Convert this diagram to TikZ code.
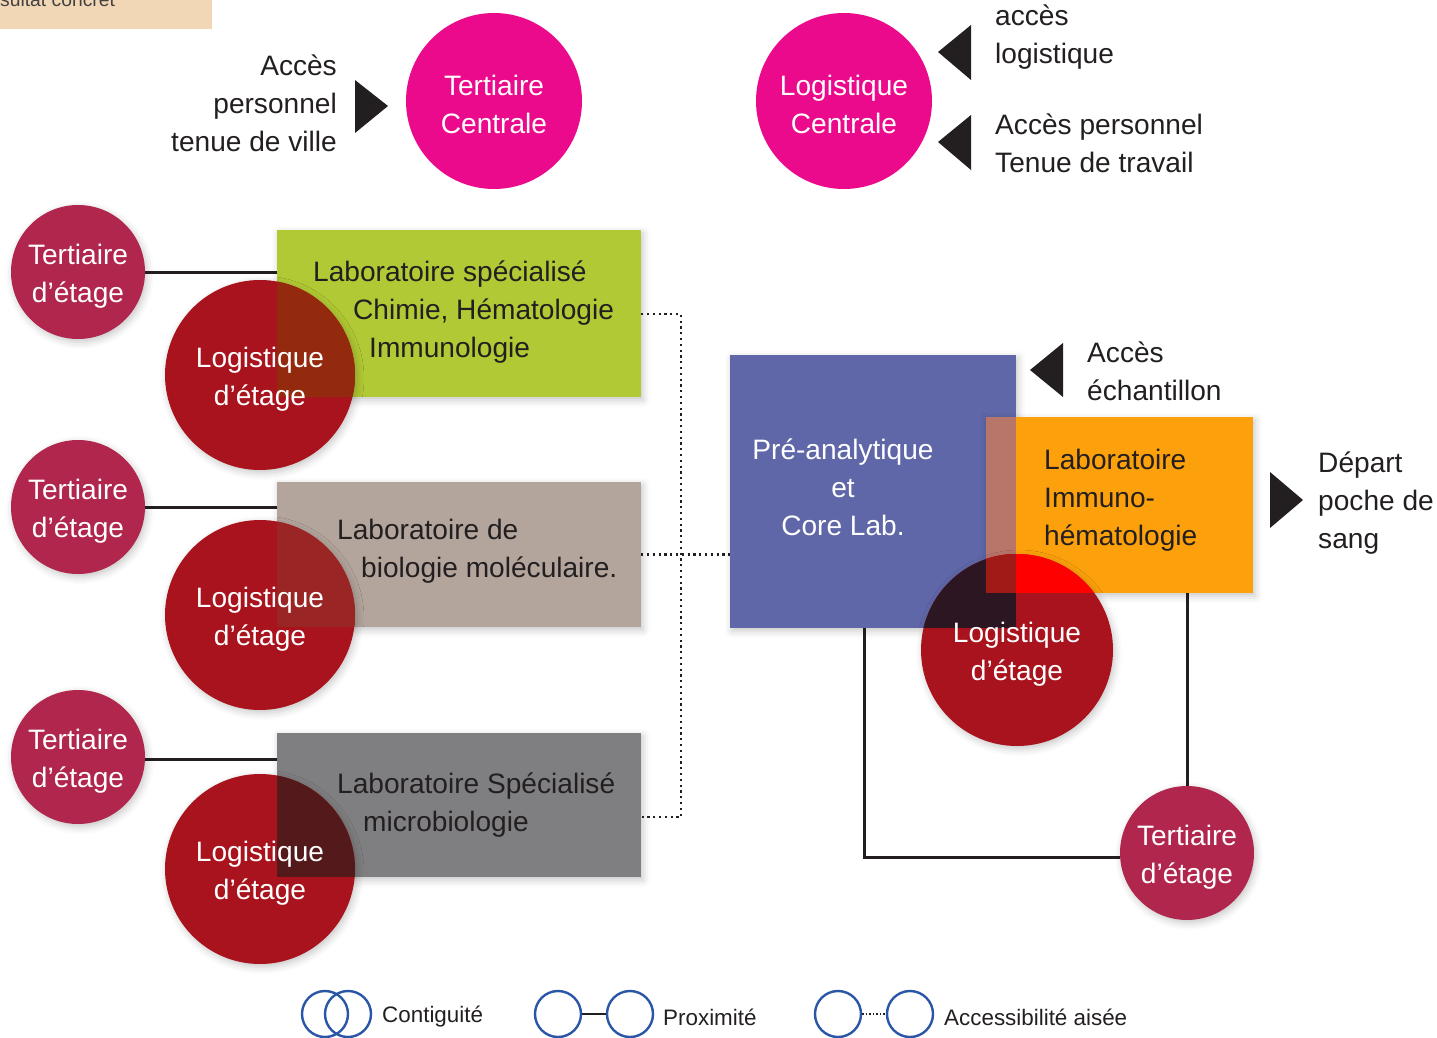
\documentclass[tikz,border=0pt]{standalone}
\usepackage{fontspec}
\setmainfont{Liberation Sans}
\usetikzlibrary{shadows.blur}
\definecolor{ink}{HTML}{231F20}
\definecolor{magen}{HTML}{EC0A8C}
\definecolor{tert}{HTML}{B0264D}
\definecolor{logi}{HTML}{A8131D}
\definecolor{lgreen}{HTML}{B1C934}
\definecolor{taupe}{HTML}{B3A59C}
\definecolor{lgray}{HTML}{7F7F81}
\definecolor{lblue}{HTML}{5F67A8}
\definecolor{lorange}{HTML}{FCA10B}
\definecolor{ovgreen}{HTML}{932A0D}
\definecolor{ovtaupe}{HTML}{992624}
\definecolor{ovgray}{HTML}{541A1B}
\definecolor{ovbo}{HTML}{B8756A}
\definecolor{ovbr}{HTML}{2C1621}
\definecolor{ovor}{HTML}{FF0000}
\definecolor{ovall}{HTML}{A01B18}
\definecolor{beige}{HTML}{F2D7B7}
\definecolor{legblue}{HTML}{2A56A6}
\pgfdeclarelayer{background}
\pgfsetlayers{background,main}
\begin{document}
\begin{tikzpicture}[x=1pt,y=-1pt,
  txt/.style={font=\fontsize{28.1}{38}\selectfont, inner sep=0pt, text=ink},
  wtxt/.style={font=\fontsize{28.1}{38}\selectfont, inner sep=0pt, text=white, align=center},
  shad/.style={blur shadow={shadow xshift=2pt, shadow yshift=-3pt, shadow blur radius=7pt, shadow opacity=22}},
  magc/.style={circle, fill=magen, minimum size=176pt, inner sep=0pt},
  tertc/.style={circle, fill=tert, minimum size=134pt, inner sep=0pt, shad},
  logc/.style={circle, fill=logi, minimum size=190pt, inner sep=0pt, shad},
  labbox/.style={rectangle, inner sep=0pt, shad},
  conn/.style={draw=ink, line width=3pt},
  dots/.style={draw=ink, line width=2.2pt, dash pattern=on 2.2pt off 3.6pt},
  legc/.style={circle, draw=legblue, line width=2.4pt, minimum size=46pt, inner sep=0pt},
  legt/.style={font=\fontsize{22.4}{27}\selectfont, inner sep=0pt, text=ink, anchor=west},
  tri/.style={fill=ink}
]
\useasboundingbox (0,0) rectangle (1437,1038);

% top-left tab
\node[fill=beige, anchor=north west, minimum width=212pt, minimum height=29pt, inner sep=0pt] (res) at (0,0) {};
\node[font=\fontsize{19.3}{22}\selectfont, inner sep=0pt, text=ink!85, anchor=base west] (rest) at (0,7) {sultat concret};

% top central circles
\node[magc] (TC) at (494,101) {};
\node[wtxt] (TCt) at ([yshift=-3pt]TC.center) {Tertiaire\\Centrale};
\node[magc] (LC) at (844,101) {};
\node[wtxt] (LCt) at ([yshift=-3pt]LC.center) {Logistique\\Centrale};
\node[txt, anchor=east, align=right] (accP) at (337,103) {Accès\\personnel\\tenue de ville};
\fill[tri] (355,80) -- (355,133) -- (388,106) -- cycle;
\fill[tri] (971,25) -- (971,80) -- (938,52) -- cycle;
\fill[tri] (971,115) -- (971,170) -- (938,142) -- cycle;
\node[txt, anchor=west, align=left] (accL) at (995,37) {accès\\logistique};
\node[txt, anchor=west, align=left] (accT) at (995,143) {Accès personnel\\Tenue de travail};

% lab boxes
\node[labbox, fill=lgreen, minimum width=364pt, minimum height=167pt] (g) at (459,313.5) {};
\node[labbox, fill=taupe, minimum width=364pt, minimum height=145pt] (tp) at (459,554.5) {};
\node[labbox, fill=lgray, minimum width=364pt, minimum height=144pt] (gr) at (459,805) {};
\node[labbox, fill=lblue, minimum width=286pt, minimum height=273pt] (p) at (873,491.5) {};
\node[labbox, fill=lorange, minimum width=267pt, minimum height=176pt] (o) at (1119.5,505) {};
\fill[ovbo] (o.north west) rectangle (p.east |- o.south);

% texts in boxes
\node[txt, anchor=west, align=left] (gt) at (313,312) {Laboratoire spécialisé\\\hspace*{40pt}Chimie, Hématologie\\\hspace*{56pt}Immunologie};
\node[txt, anchor=west, align=left] (tpt) at (337,551) {Laboratoire de\\\hspace*{24pt}biologie moléculaire.};
\node[txt, anchor=west, align=left] (grt) at (337,805) {Laboratoire Spécialisé\\\hspace*{26pt}microbiologie};
\node[wtxt] (pt) at (843,487) {Pré-analytique\\et\\Core Lab.};
\node[txt, anchor=west, align=left] (ot) at (1044,500) {Laboratoire\\Immuno-\\hématologie};

% access markers right
\fill[tri] (1063,343) -- (1063,397) -- (1030,370) -- cycle;
\node[txt, anchor=west, align=left] (ech) at (1087,371) {Accès\\échantillon};
\fill[tri] (1270,472) -- (1270,528) -- (1303,500) -- cycle;
\node[txt, anchor=west, align=left] (dep) at (1318,503) {Départ\\poche de\\sang};

% tertiaire d'etage circles
\node[tertc] (T1) at (78,272) {};
\node[tertc] (T2) at (78,507) {};
\node[tertc] (T3) at (78,757) {};
\node[tertc] (T4) at (1187,853) {};
\foreach \n in {T1,T2,T3,T4}
  \node[wtxt] (\n t) at ([yshift=-4pt]\n.center) {Tertiaire\\d’étage};

% logistique d'etage circles
\node[logc, path picture={\fill[ovgreen] (g.south west) rectangle (g.north east);}] (L1) at (260,375) {};
\node[logc, path picture={\fill[ovtaupe] (tp.south west) rectangle (tp.north east);}] (L2) at (260,615) {};
\node[logc, path picture={\fill[ovgray] (gr.south west) rectangle (gr.north east);}] (L3) at (260,869) {};
\node[logc, minimum size=192pt, path picture={
   \fill[ovbr] (p.south west) rectangle (p.north east);
   \fill[ovor] (o.south west) rectangle (o.north east);
   \fill[ovall] (o.north west) rectangle (p.east |- o.south);}] (L4) at (1017,650) {};
\foreach \n in {L1,L2,L3,L4}
  \node[wtxt] (\n t) at ([yshift=-4pt]\n.center) {Logistique\\d’étage};

% connectors
\coordinate (t3e) at ([yshift=-2pt]T3.east);
\coordinate (t4w) at ([yshift=-4pt]T4.west);
\begin{pgfonlayer}{background}
\draw[conn] (T1.east) -- (g.west |- T1.east);
\draw[conn] (T2.east) -- (tp.west |- T2.east);
\draw[conn] (t3e) -- (gr.west |- t3e);
\draw[conn] (p.south -| 864,0) |- (t4w);
\draw[conn] (o.south -| T4.north) -- (T4.north);
\end{pgfonlayer}
\draw[dots] (g.east |- 0,314) -- (681,314) -- (681,817) -- (gr.east |- 0,817);
\draw[dots] (tp.east) -- (p.west |- tp.east);

% legend
\node[legc] (c1) at (325,1014) {};
\node[legc] (c2) at (348,1014) {};
\node[legt] (l1) at (382,1017) {Contiguité};
\node[legc] (c3) at (558,1014) {};
\node[legc] (c4) at (630,1014) {};
\draw[ink, line width=2.2pt] (c3.east) -- (c4.west);
\node[legt] (l2) at (663,1017) {Proximité};
\node[legc] (c5) at (838,1014) {};
\node[legc] (c6) at (910,1014) {};
\draw[ink, line width=1.5pt, dash pattern=on 1.5pt off 2pt] (c5.east) -- (c6.west);
\node[legt] (l3) at (944,1017) {Accessibilité aisée};
\end{tikzpicture}
\end{document}
